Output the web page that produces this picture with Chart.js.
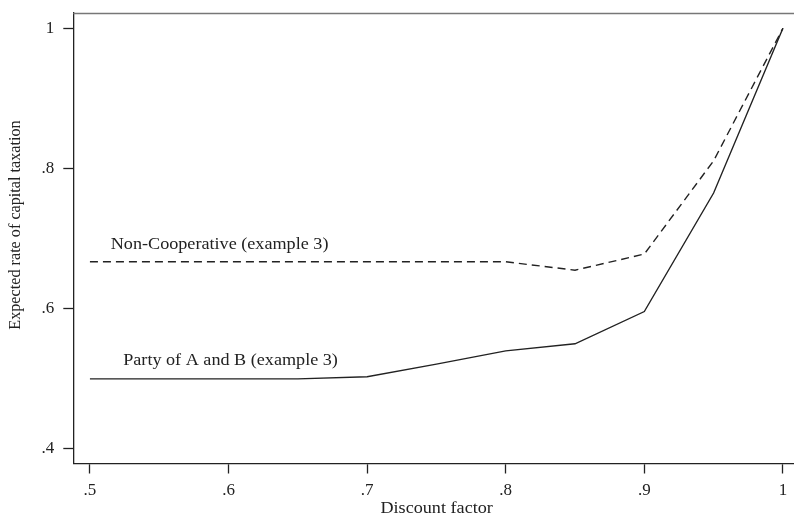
<!DOCTYPE html>
<html>
<head>
<meta charset="utf-8">
<script src="https://cdn.jsdelivr.net/npm/chart.js@4.4.1/dist/chart.umd.min.js"></script>
<style>
  html, body { margin: 0; padding: 0; background: #fff; }
  #wrap { width: 794px; height: 523px; position: relative; }
</style>
</head>
<body>
<div id="wrap"><canvas id="c" width="794" height="523"></canvas></div>
<script>
// Discount factor grid
const discountFactors = [0.5, 0.55, 0.6, 0.65, 0.7, 0.75, 0.8, 0.85, 0.9, 0.95, 1.0];
// Expected rate of capital taxation
const nonCooperative = [0.667, 0.667, 0.667, 0.667, 0.667, 0.667, 0.667, 0.655, 0.678, 0.811, 1.0];
const partyAB        = [0.5, 0.5, 0.5, 0.5, 0.503, 0.521, 0.540, 0.550, 0.596, 0.765, 1.0];
// Axis ticks
const xTicks = [0.5, 0.6, 0.7, 0.8, 0.9, 1.0];
const yTicks = [0.4, 0.6, 0.8, 1.0];
const seriesNames = ['Non-Cooperative (example 3)', 'Party of A and B (example 3)'];

const FONT = "'Liberation Serif', 'Times New Roman', serif";
const INK = '#222';

function fmt(v) {
  if (Math.abs(v - 1) < 1e-9) return '1';
  return '.' + Math.round(v * 10);
}

function pts(ys) { return discountFactors.map((x, i) => ({ x: x, y: ys[i] })); }

// Text drawn slightly wider than tall, as in the rest of the figure
function wideText(ctx, text, x, y, sx) {
  ctx.save();
  ctx.translate(x, y);
  ctx.scale(sx, 1);
  ctx.fillText(text, 0, 0);
  ctx.restore();
}

// Series labels, top frame line, and axis titles
const decor = {
  id: 'decor',
  afterDraw(chart) {
    const { ctx, chartArea, scales } = chart;
    const xs = scales.x, ys = scales.y;
    ctx.save();
    // thin grey line on top of plot region
    ctx.strokeStyle = '#777';
    ctx.lineWidth = 1.5;
    ctx.beginPath();
    ctx.moveTo(chartArea.left, chartArea.top + 0.5);
    ctx.lineTo(chartArea.right, chartArea.top + 0.5);
    ctx.stroke();

    ctx.fillStyle = INK;
    ctx.font = '16.5px ' + FONT;
    ctx.textAlign = 'left';
    ctx.textBaseline = 'middle';
    wideText(ctx, seriesNames[0], xs.getPixelForValue(0.515), ys.getPixelForValue(0.692), 1.1);
    wideText(ctx, seriesNames[1], xs.getPixelForValue(0.524), ys.getPixelForValue(0.526), 1.1);

    // axis titles
    ctx.textAlign = 'center';
    wideText(ctx, 'Discount factor', (chartArea.left + chartArea.right) / 2 + 3, 509, 1.1);
    ctx.font = '16.2px ' + FONT;
    ctx.translate(16, 225);
    ctx.rotate(-Math.PI / 2);
    ctx.fillText('Expected rate of capital taxation', 0, 0);
    ctx.restore();
  }
};

new Chart(document.getElementById('c'), {
  type: 'line',
  data: {
    datasets: [
      {
        label: seriesNames[0],
        data: pts(nonCooperative),
        borderColor: INK,
        borderWidth: 1.4,
        borderDash: [8, 5],
        pointRadius: 0,
        tension: 0,
        fill: false
      },
      {
        label: seriesNames[1],
        data: pts(partyAB),
        borderColor: INK,
        borderWidth: 1.4,
        pointRadius: 0,
        tension: 0,
        fill: false
      }
    ]
  },
  options: {
    responsive: false,
    animation: false,
    devicePixelRatio: 1,
    layout: { padding: { top: 13, right: 0, left: 0, bottom: 0 } },
    plugins: { legend: { display: false }, tooltip: { enabled: false } },
    scales: {
      x: {
        type: 'linear',
        min: 0.488,
        max: 1.008,
        afterBuildTicks(s) { s.ticks = xTicks.map(v => ({ value: v })); },
        afterFit(s) { s.height = 59.5; s.paddingLeft = 0; s.paddingRight = 0; },
        ticks: {
          callback: v => fmt(v),
          color: INK,
          font: { family: FONT, size: 17 },
          padding: 7,
          maxRotation: 0,
          autoSkip: false
        },
        grid: { drawOnChartArea: false, drawTicks: true, tickLength: 10, color: INK, tickWidth: 1.3 },
        border: { display: true, color: INK, width: 1.3 }
      },
      y: {
        type: 'linear',
        min: 0.3793,
        max: 1.0218,
        afterBuildTicks(s) { s.ticks = yTicks.map(v => ({ value: v })); },
        afterFit(s) { s.width = 73.3; s.paddingTop = 0; s.paddingBottom = 0; },
        ticks: {
          callback: v => fmt(v),
          color: INK,
          font: { family: FONT, size: 17 },
          padding: 9,
          autoSkip: false
        },
        grid: { drawOnChartArea: false, drawTicks: true, tickLength: 10, color: INK, tickWidth: 1.3 },
        border: { display: true, color: INK, width: 1.3 }
      }
    }
  },
  plugins: [decor]
});
</script>
</body>
</html>
